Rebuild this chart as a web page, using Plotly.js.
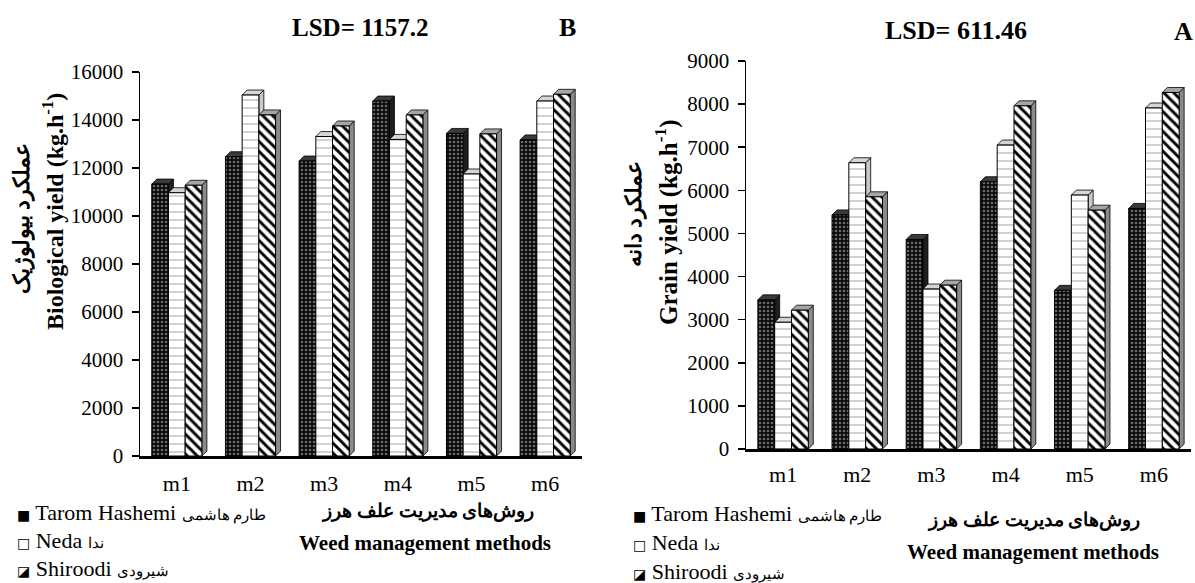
<!DOCTYPE html>
<html>
<head>
<meta charset="utf-8">
<script src="https://cdn.plot.ly/plotly-3.0.1.min.js"></script>
<style>html,body{margin:0;padding:0;background:#fff;}#chart{width:1195px;height:583px;}</style>
</head>
<body>
<div id="chart"></div>
<script>
// ---- data ----
const categories = ['m1', 'm2', 'm3', 'm4', 'm5', 'm6'];
const seriesEn = ['Tarom Hashemi', 'Neda', 'Shiroodi'];
const seriesFa = ['طارم هاشمی', 'ندا', 'شیرودی'];
const legendKeys = ['■', '□', '◪'];
// Biological yield (kg/ha) - panel B
const bioTarom = [11330, 12470, 12290, 14790, 13440, 13170];
const bioNeda = [10970, 15040, 13310, 13190, 11750, 14790];
const bioShiroodi = [11280, 14210, 13750, 14210, 13420, 15070];
// Grain yield (kg/ha) - panel A
const grainTarom = [3460, 5430, 4860, 6200, 3680, 5580];
const grainNeda = [2940, 6640, 3710, 7050, 5890, 7910];
const grainShiroodi = [3220, 5850, 3800, 7960, 5540, 8270];
const bioTicks = [0, 2000, 4000, 6000, 8000, 10000, 12000, 14000, 16000];
const grainTicks = [0, 1000, 2000, 3000, 4000, 5000, 6000, 7000, 8000, 9000];

// ---- styles ----
const FONT = 'Liberation Serif';
const patterns = [
  {shape: '.', bgcolor: '#0a0a0a', fgcolor: '#6a6a6a', size: 4, solidity: 0.35, fillmode: 'replace'},
  {shape: '-', bgcolor: '#ffffff', fgcolor: '#c0c0c0', size: 8, solidity: 0.18, fillmode: 'replace'},
  {shape: '\\', bgcolor: '#ffffff', fgcolor: '#000000', size: 7, solidity: 0.42, fillmode: 'replace'}
];
const topFill = ['#3a3a3a', '#d6d6d6', '#a6a6a6'];
const sideFill = ['#1e1e1e', '#c8c8c8', '#8a8a8a'];
const BARGAP = 0.32;

function mk(vals, i, xa, ya) {
  return {
    type: 'bar', x: categories, y: vals, name: seriesEn[i] + ' ' + seriesFa[i],
    xaxis: xa, yaxis: ya, showlegend: false,
    marker: {color: i === 0 ? '#0a0a0a' : '#ffffff', pattern: patterns[i], line: {color: '#000', width: 1}},
    hoverinfo: 'skip'
  };
}

const data = [
  mk(bioTarom, 0, 'x', 'y'),
  mk(bioNeda, 1, 'x', 'y'),
  mk(bioShiroodi, 2, 'x', 'y'),
  mk(grainTarom, 0, 'x2', 'y2'),
  mk(grainNeda, 1, 'x2', 'y2'),
  mk(grainShiroodi, 2, 'x2', 'y2')
];

const W = 1195, H = 583;
const px = v => v / W, py = v => 1 - v / H;

// panel geometry (pixels)
const P1 = {x0: 140, x1: 582, yb: 456, yt: 72, ymax: 16000};
const P2 = {x0: 746, x1: 1191, yb: 449, yt: 61, ymax: 9000};

// 3D depth faces, computed from the series values in data coordinates
function depthShapes(seriesList, P, xref, yref) {
  const depthPx = 5;
  const dx = depthPx / ((P.x1 - P.x0) / categories.length);
  const dy = depthPx * P.ymax / (P.yb - P.yt);
  const w = (1 - BARGAP) / seriesList.length;
  const shapes = [];
  seriesList.forEach((vals, k) => {
    vals.forEach((v, i) => {
      const xl = i + (k - seriesList.length / 2) * w;
      const xr = xl + w;
      shapes.push({type: 'path', xref: xref, yref: yref, layer: 'below',
        path: `M${xr},0 L${xr},${v} L${xr + dx},${v + dy} L${xr + dx},${dy} Z`,
        fillcolor: sideFill[k], line: {color: '#000', width: 0.8}});
      shapes.push({type: 'path', xref: xref, yref: yref, layer: 'below',
        path: `M${xl},${v} L${xr},${v} L${xr + dx},${v + dy} L${xl + dx},${v + dy} Z`,
        fillcolor: topFill[k], line: {color: '#000', width: 0.8}});
    });
  });
  return shapes;
}

const xBase = {
  type: 'category', showline: true, linecolor: '#000', linewidth: 2.5,
  ticks: '', ticklen: 0, showgrid: false, zeroline: false, fixedrange: true,
  tickfont: {family: FONT, size: 22, color: '#000'}
};
const yBase = {
  showline: true, linecolor: '#000', linewidth: 1.5, ticks: 'outside', ticklen: 7,
  tickwidth: 1.5, tickcolor: '#000', showgrid: false, zeroline: false, fixedrange: true,
  tickformat: 'd', tickfont: {family: FONT, size: 21, color: '#000'}, ticklabelstandoff: 4
};

const ann = (text, x, y, size, extra) => Object.assign({
  text: text, x: px(x), y: py(y), xref: 'paper', yref: 'paper', showarrow: false,
  xanchor: 'center', yanchor: 'middle', font: {family: FONT, size: size, color: '#000'}
}, extra || {});

function legendAnns(x, ys) {
  return seriesEn.map((n, i) => ann(
    '<span style="font-family:DejaVu Sans;font-size:14px">' + legendKeys[i] + '</span> ' + n +
    ' <span style="font-size:15px">' + seriesFa[i] + '</span>',
    x, ys[i], 22, {xanchor: 'left'}));
}

const layout = {
  width: W, height: H, margin: {l: 0, r: 0, t: 0, b: 0},
  paper_bgcolor: '#fff', plot_bgcolor: '#fff',
  barmode: 'group', bargap: BARGAP, bargroupgap: 0, showlegend: false,
  font: {family: FONT, size: 20, color: '#000'},
  xaxis: Object.assign({}, xBase, {domain: [px(P1.x0), px(P1.x1)], anchor: 'y', range: [-0.5, 5.5], ticklabelstandoff: 6}),
  yaxis: Object.assign({}, yBase, {domain: [py(P1.yb), py(P1.yt)], range: [0, P1.ymax], tickvals: bioTicks, anchor: 'x'}),
  xaxis2: Object.assign({}, xBase, {domain: [px(P2.x0), px(P2.x1)], anchor: 'y2', range: [-0.5, 5.5], ticklabelstandoff: 4}),
  yaxis2: Object.assign({}, yBase, {domain: [py(P2.yb), py(P2.yt)], range: [0, P2.ymax], tickvals: grainTicks, anchor: 'x2'}),
  shapes: depthShapes([bioTarom, bioNeda, bioShiroodi], P1, 'x', 'y')
    .concat(depthShapes([grainTarom, grainNeda, grainShiroodi], P2, 'x2', 'y2')),
  annotations: [
    ann('<b>LSD= 1157.2</b>', 360, 27, 25),
    ann('<b>B</b>', 567, 27, 26),
    ann('<b>LSD= 611.46</b>', 956, 30, 26),
    ann('<b>A</b>', 1183, 32, 26),
    ann('<b>عملکرد بیولوژیک</b>', 22, 218, 22, {textangle: -90}),
    ann('<b>Biological yield (kg.h<sup>-1</sup>)</b>', 53, 212, 24, {textangle: -90}),
    ann('<b>عملکرد دانه</b>', 634, 214, 22, {textangle: -90}),
    ann('<b>Grain yield (kg.h<sup>-1</sup>)</b>', 666, 222, 25, {textangle: -90}),
    ann('<b>روش‌های مدیریت علف هرز</b>', 427, 511, 19),
    ann('<b>Weed management methods</b>', 425, 543, 21),
    ann('<b>روش‌های مدیریت علف هرز</b>', 1033, 520, 19),
    ann('<b>Weed management methods</b>', 1033, 552, 21)
  ].concat(legendAnns(15, [512, 540, 568]), legendAnns(631, [513, 542, 571]))
};

Plotly.newPlot('chart', data, layout, {staticPlot: true, displayModeBar: false});
</script>
</body>
</html>
